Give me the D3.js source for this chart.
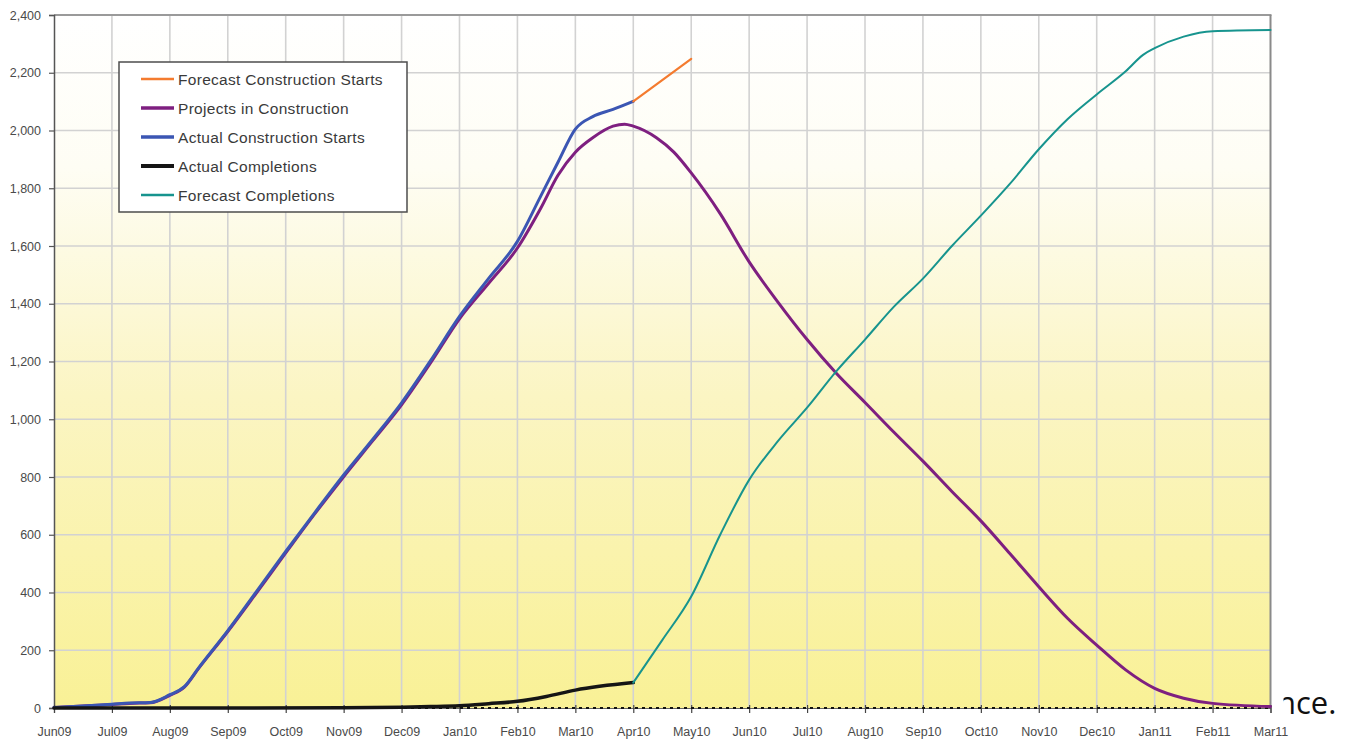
<!DOCTYPE html>
<html><head><meta charset="utf-8">
<script src="https://cdn.jsdelivr.net/npm/d3@7"></script>
<style>
html,body{margin:0;padding:0;background:#fff;}
svg{display:block;}
</style></head>
<body>
<svg id="c" width="1352" height="744"></svg>
<script>
// ---- data (x = month index from Jun09) ----
const monthLabels = ["Jun09","Jul09","Aug09","Sep09","Oct09","Nov09","Dec09","Jan10","Feb10","Mar10","Apr10","May10","Jun10","Jul10","Aug10","Sep10","Oct10","Nov10","Dec10","Jan11","Feb11","Mar11"];
const yTicks = [0,200,400,600,800,1000,1200,1400,1600,1800,2000,2200,2400];

const forecastStarts = [[10,2101],[11,2248]];
const projectsInConstruction = [[0,2],[0.5,7],[1,12],[1.3,16],[1.66,18],[2,44],[2.25,72],[2.5,138],[3,265],[3.5,400],[4,537],[4.5,672],[5,801],[5.5,925],[6,1050],[6.5,1195],[7,1348],[7.5,1470],[8,1593],[8.4,1730],[8.7,1845],[9,1925],[9.3,1975],[9.65,2015],[9.85,2022],[10,2015],[10.4,1975],[10.7,1925],[11,1853],[11.5,1712],[12,1545],[12.5,1405],[13,1276],[13.5,1160],[14,1058],[14.5,955],[15,855],[15.5,750],[16,648],[16.5,535],[17,420],[17.5,310],[18,218],[18.5,132],[19,68],[19.5,34],[20,16],[21,5]];
const actualStarts = [[0,2],[0.5,7],[1,13],[1.3,17],[1.66,19],[2,46],[2.25,74],[2.5,140],[3,268],[3.5,405],[4,542],[4.5,676],[5,807],[5.5,930],[6,1057],[6.5,1203],[7,1356],[7.5,1487],[8,1616],[8.4,1772],[8.7,1890],[9,2005],[9.3,2048],[9.65,2073],[10,2101]];
const actualCompletions = [[0,0],[3,0],[5,1],[6,3],[6.5,5],[7,8],[7.5,15],[8,23],[8.5,40],[9,62],[10,88]];
const forecastCompletions = [[10,88],[10.5,235],[11,386],[11.5,600],[12,790],[12.5,925],[13,1040],[13.5,1165],[14,1276],[14.5,1390],[15,1487],[15.5,1600],[16,1705],[16.5,1815],[17,1935],[17.5,2040],[18,2125],[18.5,2205],[18.8,2262],[19,2285],[19.5,2325],[20,2344],[21,2348]];

const legendItems = [
  {name:"Forecast Construction Starts", color:"#f47b2f", w:2.2},
  {name:"Projects in Construction", color:"#7e1f80", w:3},
  {name:"Actual Construction Starts", color:"#3b56b3", w:3},
  {name:"Actual Completions", color:"#151515", w:3.5},
  {name:"Forecast Completions", color:"#17948e", w:2}
];

const svg = d3.select("#c");
const L=54, R=1270.5, T=15, B=708;
const x = d3.scaleLinear().domain([0,21]).range([L,R]);
const y = d3.scaleLinear().domain([0,2400]).range([B,T]);

// background gradient
const defs = svg.append("defs");
const g = defs.append("linearGradient").attr("id","bg").attr("x1",0).attr("y1",0).attr("x2",0).attr("y2",1);
g.append("stop").attr("offset","0%").attr("stop-color","#ffffff");
g.append("stop").attr("offset","22%").attr("stop-color","#fefdf4");
g.append("stop").attr("offset","55%").attr("stop-color","#fbf5c3");
g.append("stop").attr("offset","100%").attr("stop-color","#f9f196");
svg.append("rect").attr("x",L).attr("y",T).attr("width",R-L).attr("height",B-T).attr("fill","url(#bg)");

// "nce." slide text behind chart edge
svg.append("text").attr("x",1277).attr("y",714).attr("font-family","'Open Sans',sans-serif")
  .attr("font-size",31).attr("fill","#111").text("nce.");
svg.append("rect").attr("x",1271.5).attr("y",680).attr("width",12).attr("height",40).attr("fill","#fff");

// gridlines
const grid = svg.append("g");
grid.selectAll("line.h").data(yTicks.filter(d=>d>0)).enter().append("line")
  .attr("x1",L).attr("x2",R).attr("y1",d=>y(d)).attr("y2",d=>y(d))
  .attr("stroke","#d2d2d2").attr("stroke-width",1.6);
grid.selectAll("line.v").data(d3.range(1,21)).enter().append("line")
  .attr("x1",d=>x(d)).attr("x2",d=>x(d)).attr("y1",T).attr("y2",B)
  .attr("stroke","#d2d2d2").attr("stroke-width",1.6);

// frame top/right
svg.append("line").attr("x1",L).attr("x2",R+1).attr("y1",T).attr("y2",T).attr("stroke","#9a9a9a").attr("stroke-width",2);
svg.append("line").attr("x1",R).attr("x2",R).attr("y1",T).attr("y2",B).attr("stroke","#8a8a8a").attr("stroke-width",2);

// axes
const yAxis = d3.axisLeft(y).tickValues(yTicks).tickFormat(d3.format(",")).tickSize(5).tickPadding(8);
const ya = svg.append("g").attr("transform",`translate(${L},0)`).call(yAxis);
ya.select(".domain").attr("stroke","#555").attr("stroke-width",1.5);
ya.selectAll(".tick line").attr("stroke","#555").attr("stroke-width",1.2);
ya.selectAll("text").attr("font-family","'Liberation Sans',Arial,sans-serif").attr("font-size",12.5).attr("fill","#4a4a4a");

const xAxis = d3.axisBottom(x).tickValues(d3.range(0,22)).tickFormat(i=>monthLabels[i]).tickSize(5).tickPadding(14);
const xa = svg.append("g").attr("transform",`translate(0,${B})`).call(xAxis);
xa.select(".domain").attr("stroke","#666").attr("stroke-width",1.2);
xa.selectAll(".tick line").attr("stroke","#444").attr("stroke-width",1.2).attr("y1",-3);
xa.selectAll("text").attr("font-family","'Liberation Sans',Arial,sans-serif").attr("font-size",12.5).attr("fill","#4a4a4a");
// dotted black baseline
svg.append("line").attr("x1",L).attr("x2",R).attr("y1",B).attr("y2",B)
  .attr("stroke","#111").attr("stroke-width",2).attr("stroke-dasharray","3,4");

// lines
const line = d3.line().x(d=>x(d[0])).y(d=>y(d[1])).curve(d3.curveMonotoneX);
const series = [
  [projectsInConstruction, legendItems[1]],
  [actualStarts, legendItems[2]],
  [forecastStarts, legendItems[0]],
  [actualCompletions, legendItems[3]],
  [forecastCompletions, legendItems[4]]
];
svg.append("g").selectAll("path").data(series).enter().append("path")
  .attr("d",d=>line(d[0])).attr("fill","none")
  .attr("stroke",d=>d[1].color).attr("stroke-width",d=>d[1].w)
  .attr("stroke-linejoin","round").attr("stroke-linecap","round");

// legend
const lg = svg.append("g");
lg.append("rect").attr("x",119).attr("y",62).attr("width",288).attr("height",150)
  .attr("fill","#fff").attr("stroke","#4d4d4d").attr("stroke-width",1.5);
const rows = lg.selectAll("g.r").data(legendItems).enter().append("g")
  .attr("transform",(d,i)=>`translate(0,${79+i*29})`);
rows.append("line").attr("x1",141).attr("x2",174).attr("y1",0).attr("y2",0)
  .attr("stroke",d=>d.color).attr("stroke-width",d=>d.w+0.5);
rows.append("text").attr("x",178).attr("y",5.5).attr("font-family","'Liberation Sans',Arial,sans-serif")
  .attr("font-size",15.5).attr("fill","#3a3a3a").attr("letter-spacing",0.3).text(d=>d.name);
</script>
</body></html>
